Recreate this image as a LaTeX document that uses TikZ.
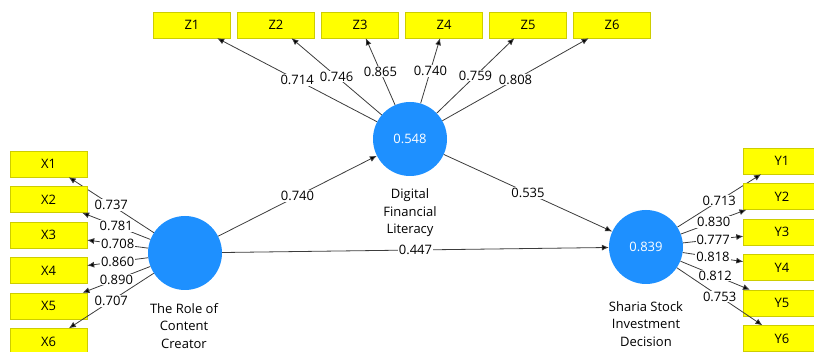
\documentclass[tikz,border=0pt]{standalone}
\usepackage{fontspec}
\setmainfont{Open Sans}
\usetikzlibrary{arrows.meta}
\definecolor{plsblue}{RGB}{30,144,255}
\definecolor{boxyellow}{RGB}{255,255,0}
\definecolor{boxedge}{RGB}{205,205,0}
\definecolor{linegray}{RGB}{60,60,60}
\tikzset{
  ind/.style={draw=boxedge, fill=boxyellow, minimum width=77pt, minimum height=26pt, inner sep=0pt},
  lv/.style={circle, fill=plsblue, minimum size=74pt, inner sep=0pt, text=white},
  ld/.style={fill=white, inner sep=1pt, pos=0.5},
  lnk/.style={draw=linegray, line width=0.8pt, -{Latex[length=7pt,width=6pt,fill=black]}}
}

\begin{document}
\begin{tikzpicture}[x=1pt, y=-1pt, font=\fontsize{13}{17.5}\selectfont]
\clip (0,0) rectangle (814,352);
\node [lv] (dfl) at (410,139) {0.548};
\node [lv] (trcc) at (185,253) {};
\node [lv] (ssid) at (646,247) {0.839};
\node [align=center] (dflname) at (410,213) {Digital\\Financial\\Literacy};
\node [align=center] (trccname) at (184,326) {The Role of\\Content\\Creator};
\node [align=center] (ssidname) at (646,324) {Sharia Stock\\Investment\\Decision};
\foreach \i/\v in {1/0.714, 2/0.746, 3/0.865, 4/0.740, 5/0.759, 6/0.808} {
  \node [ind] (z\i) at ({192+84*(\i-1)},25) {Z\i};
  \draw [lnk] (dfl) -- node [ld] {\v} (z\i);
}
\foreach \i/\v in {1/0.737, 2/0.781, 3/0.708, 4/0.860, 5/0.890, 6/0.707} {
  \node [ind] (x\i) at (48.5,{164+35.5*(\i-1)}) {X\i};
  \draw [lnk] (trcc) -- node [ld] {\v} (x\i);
}
\foreach \i/\v in {1/0.713, 2/0.830, 3/0.777, 4/0.818, 5/0.812, 6/0.753} {
  \node [ind] (y\i) at (782,{161+35.5*(\i-1)}) {Y\i};
  \draw [lnk] (ssid) -- node [ld] {\v} (y\i);
}
\draw [lnk] (trcc) -- node [ld] {0.740} (dfl);
\draw [lnk] (trcc) -- node [ld] {0.447} (ssid);
\draw [lnk] (dfl) -- node [ld] {0.535} (ssid);
\end{tikzpicture}
\end{document}
